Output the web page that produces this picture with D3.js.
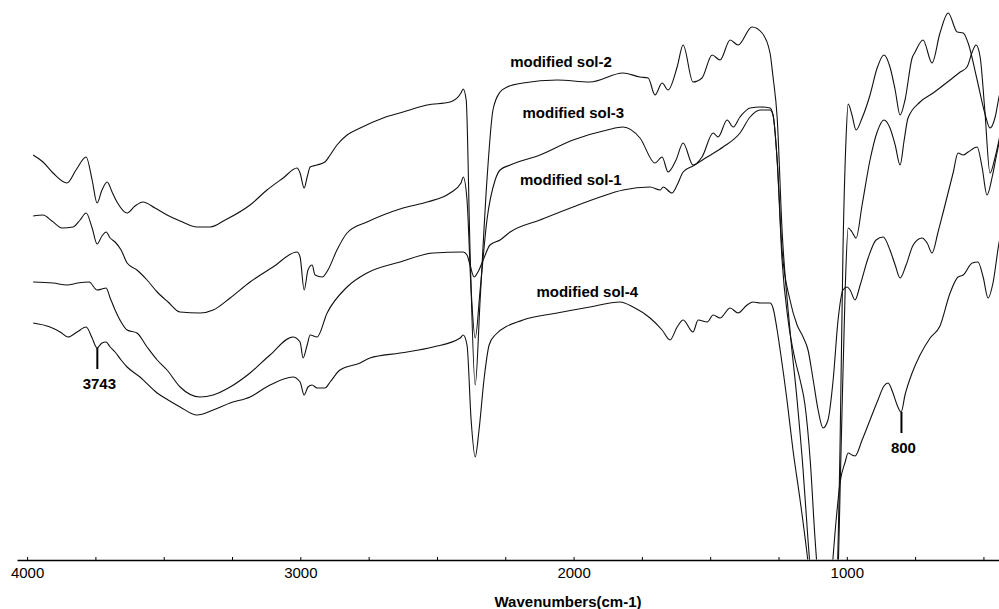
<!DOCTYPE html>
<meta charset="utf-8">
<style>
    body { margin: 0; background: #fff; }
    .spec { fill: none; stroke: #111; stroke-width: 1.1px; }
    .lbl { font-family: "Liberation Sans", Arial, sans-serif; font-weight: bold; font-size: 15px; }
</style>
<svg width="999" height="609"></svg>
<script src="https://d3js.org/d3.v7.min.js"></script>
<script>
    // wavenumber (cm-1), transmittance (a.u.)
    var sol2 = [[3978,81],[3942,79.6],[3905,77.4],[3854,75.4],[3821,78],[3784,80.6],[3762,76],[3744,71.4],[3726,74],[3707,75.6],[3689,73.6],[3671,71.6],[3634,69.4],[3605,70.8],[3576,71.6],[3532,70.4],[3488,69],[3440,67.8],[3378,66.6],[3330,66.6],[3275,68],[3184,71],[3122,74],[3063,76.4],[3012,78.4],[3001,77.4],[2986,74.4],[2975,76.6],[2964,78.6],[2939,79],[2910,79.6],[2891,81],[2866,83],[2829,85],[2781,86.4],[2697,88.4],[2624,89.6],[2536,91],[2452,91.6],[2412,93.4],[2404,94.2],[2393,92],[2379,62],[2360,35],[2342,52],[2317,76],[2295,90],[2269,93.6],[2243,94.6],[2185,95.4],[2060,96],[1940,95.6],[1819,97.4],[1757,96.6],[1727,96.4],[1702,93],[1676,95.4],[1654,94],[1621,98.6],[1599,103],[1563,95.6],[1530,96.4],[1493,101],[1464,100],[1427,104],[1398,103],[1347,106.6],[1310,105.4],[1281,101.4],[1270,96.6],[1255,88.6],[1237,66],[1208,46],[1182,32],[1160,18],[1142,4],[1123,-8],[1080,-16],[1039,-8],[1025,22],[1014,62],[1003,84],[995,91.2],[981,89],[966,86],[944,88.4],[915,93],[889,98.4],[864,101],[842,98.6],[823,94],[805,89],[787,92],[761,100.4],[750,101.6],[721,104],[688,99.4],[659,105.4],[629,109.4],[596,105.6],[574,105.4],[556,103.4],[523,96],[495,89.4],[476,86.4],[457,88.6],[443,92.6],[428,96]];

    var sol3 = [[3978,68.8],[3942,69],[3909,67.8],[3872,66.4],[3832,66.6],[3806,68],[3784,69.4],[3762,66.4],[3744,63.2],[3726,64.8],[3711,65.6],[3696,64.4],[3678,63.6],[3656,62],[3634,59.4],[3598,58],[3561,56],[3524,53.6],[3484,51.6],[3440,49.6],[3367,49.4],[3319,50],[3257,52.4],[3184,55.6],[3100,58.6],[3012,61.6],[3001,60.6],[2986,54],[2972,58],[2957,59],[2946,57],[2920,56.6],[2899,58],[2866,62],[2829,65.4],[2756,67.6],[2697,69],[2624,70.4],[2536,71.6],[2452,73.4],[2412,75.4],[2404,76.6],[2390,72],[2375,54],[2360,44.4],[2342,54],[2317,68],[2287,76],[2269,78],[2232,79],[2123,81],[2002,84],[1877,86],[1819,86.6],[1757,84.4],[1702,79.4],[1676,80.6],[1654,77.6],[1625,80],[1599,83.4],[1563,79],[1530,80.6],[1489,85.4],[1471,84.6],[1438,88],[1416,86.6],[1391,88.6],[1354,90.4],[1317,90.6],[1281,90.4],[1270,89],[1255,80],[1237,60],[1215,48],[1189,40],[1171,36],[1153,31],[1134,20],[1116,4],[1098,-8],[1061,-16],[1036,-8],[1021,22],[1006,54],[995,66.4],[981,65.6],[966,64.4],[944,71],[915,80],[889,85.6],[864,88],[842,86.4],[823,83],[805,79],[790,84],[776,88.4],[732,91.6],[684,93.4],[622,96],[585,97.6],[560,98.6],[541,101.6],[527,103],[512,100.6],[495,90],[476,77.4],[457,80.6],[443,84],[428,88]];

    var sol1 = [[3978,55.6],[3905,55.4],[3854,55],[3814,55.4],[3773,55.6],[3744,54],[3726,54.2],[3711,54.4],[3696,52.4],[3678,50],[3656,47.6],[3634,46],[3598,45.4],[3561,42.6],[3524,40],[3488,38],[3440,34.6],[3367,32.6],[3319,33],[3257,34.6],[3184,37.4],[3111,41],[3027,44.6],[3001,43.6],[2990,40.4],[2975,43],[2964,45],[2939,44.6],[2902,49.4],[2829,54.6],[2756,57.4],[2635,59.6],[2514,61.4],[2404,61.6],[2390,61],[2379,59],[2364,56.6],[2350,57.6],[2328,60.4],[2306,63],[2269,64],[2232,65.6],[2123,68],[2002,70.6],[1903,72.6],[1819,74],[1720,74.6],[1683,74],[1672,74.6],[1640,73.4],[1621,75],[1599,77.6],[1563,78.8],[1511,80.6],[1453,82.6],[1391,85.4],[1354,88.6],[1317,90],[1281,90],[1270,89],[1255,80],[1237,62],[1208,52],[1182,47],[1160,44.6],[1142,42],[1123,36],[1105,30],[1087,26.4],[1069,28],[1050,36],[1032,48],[1014,54],[999,54.6],[988,54],[970,52],[951,55],[922,60.4],[893,64],[867,64.6],[842,62],[823,59],[805,56.4],[783,59],[757,63],[725,64.4],[706,63.4],[688,61.4],[666,65.6],[648,69.4],[611,77.4],[593,81.4],[574,81],[556,81.6],[523,82.6],[505,78.6],[487,73],[468,76.6],[454,80.4],[443,83.4],[428,87]];

    var sol4 = [[3978,47.4],[3916,46.6],[3879,45.6],[3850,44.6],[3817,45.6],[3784,46.6],[3762,44.4],[3744,42.4],[3726,43.4],[3711,43.6],[3696,42.6],[3678,41.6],[3656,40],[3634,38.6],[3587,36.6],[3524,33.4],[3484,32],[3440,30.6],[3378,29],[3319,30],[3257,31.4],[3184,32.6],[3111,35],[3027,36.6],[3001,35.6],[2986,33],[2972,34.6],[2957,35],[2939,34.4],[2910,34.4],[2891,35.6],[2855,38],[2781,39.4],[2745,40.4],[2635,41.4],[2514,42.6],[2415,44.4],[2404,45],[2390,43],[2375,28],[2360,20.6],[2346,26],[2328,36],[2309,43],[2287,45],[2185,48],[2060,49.4],[1940,50.6],[1830,51.6],[1782,50.6],[1720,48.4],[1676,46],[1647,44],[1621,46.6],[1599,48],[1563,45.6],[1544,48],[1511,47.6],[1489,49],[1464,48.4],[1427,50.4],[1398,49.4],[1365,51],[1343,51.6],[1317,51.4],[1281,51.4],[1270,50.4],[1255,46],[1244,42],[1219,32],[1197,22],[1171,12],[1145,1],[1127,-8],[1091,-14],[1061,-6],[1039,8],[1025,15.4],[1006,19.6],[995,21.4],[981,21],[970,20.8],[944,24],[915,28],[886,32],[864,34.8],[849,35.4],[831,33.4],[816,31],[801,29.6],[787,33],[761,37.4],[732,41],[695,44.4],[659,46.8],[622,53.4],[593,56.6],[574,57],[541,59.4],[520,59.6],[501,56.6],[483,52.4],[465,55.4],[443,63.4],[428,67]];

    var seriesNames = ["modified sol-2", "modified sol-3", "modified sol-1", "modified sol-4"];
    var seriesData = [sol2, sol3, sol1, sol4];

    var xTicks = d3.range(4000, 499, -250);
    var xTickLabels = [4000, 3000, 2000, 1000];

    // peak annotations: wavenumber, value at the mark
    var peakWave = [3743, 800];
    var peakValue = [42.4, 29.6];

    var svg = d3.select("svg"),
        width = +svg.attr("width"),
        height = +svg.attr("height");

    var x = d3.scaleLinear().domain([4037, 443]).range([17, 999]);
    var y = d3.scaleLinear().domain([0, 112]).range([560, 0]);

    svg.append("defs").append("clipPath").attr("id", "clip")
        .append("rect")
        .attr("x", 0).attr("y", 0)
        .attr("width", width).attr("height", y(0) - 0.5);

    var line = d3.line()
        .x(function (d) { return x(d[0]); })
        .y(function (d) { return y(d[1]); })
        .curve(d3.curveMonotoneX);

    svg.append("g")
        .attr("clip-path", "url(#clip)")
        .selectAll("path")
        .data(seriesData)
        .enter().append("path")
        .attr("class", "spec")
        .attr("d", line);

    // series labels (placed next to each trace)
    var labelPos = [[2232, 98.6], [2187, 88.4], [2196, 75], [2136, 52.6]];
    svg.append("g")
        .selectAll("text")
        .data(seriesNames)
        .enter().append("text")
        .attr("class", "lbl")
        .attr("x", function (d, i) { return x(labelPos[i][0]); })
        .attr("y", function (d, i) { return y(labelPos[i][1]); })
        .text(function (d) { return d; });

    // axis
    var axis = d3.axisBottom(x)
        .tickValues(xTicks)
        .tickSizeInner(-3)
        .tickSizeOuter(0)
        .tickPadding(7)
        .tickFormat(function (d) { return xTickLabels.indexOf(d) >= 0 ? d : ""; });

    var gx = svg.append("g")
        .attr("transform", "translate(0," + y(0) + ")")
        .call(axis);
    gx.select(".domain").attr("stroke", "#000").attr("stroke-width", 1.6);
    gx.selectAll(".tick line").attr("stroke", "#000");
    gx.selectAll("text")
        .attr("font-family", "Liberation Sans, Arial, sans-serif")
        .attr("font-size", 15)
        .attr("fill", "#000");

    svg.append("text")
        .attr("class", "lbl")
        .attr("font-size", 16)
        .attr("x", 568)
        .attr("y", 607)
        .attr("text-anchor", "middle")
        .text("Wavenumbers(cm-1)");

    // peak markers
    var mk = svg.append("g").selectAll("g")
        .data(peakWave)
        .enter().append("g");
    mk.append("line")
        .attr("x1", function (d) { return x(d); })
        .attr("x2", function (d) { return x(d); })
        .attr("y1", function (d, i) { return y(peakValue[i]); })
        .attr("y2", function (d, i) { return y(peakValue[i]) + 21; })
        .attr("stroke", "#000")
        .attr("stroke-width", 2);
    mk.append("text")
        .attr("class", "lbl")
        .attr("text-anchor", "middle")
        .attr("x", function (d) { return x(d) + 2; })
        .attr("y", function (d, i) { return y(peakValue[i]) + 41; })
        .text(function (d) { return d; });
</script>
